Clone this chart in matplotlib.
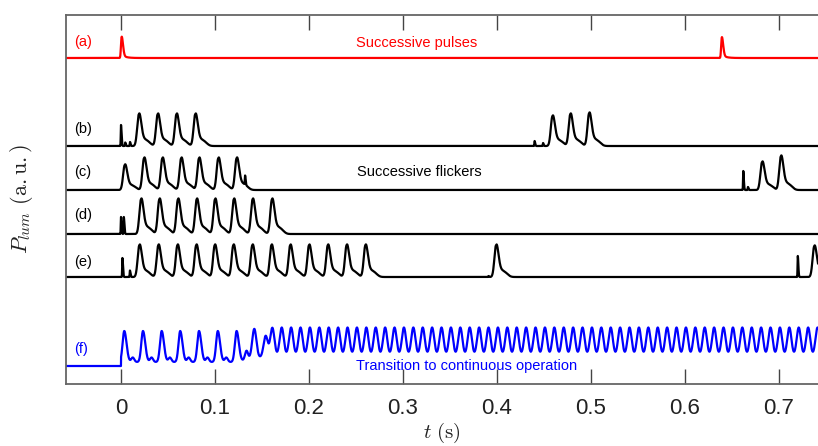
import numpy as np
import matplotlib
matplotlib.use("Agg")
import matplotlib.pyplot as plt

plt.rcParams["font.family"] = ["Liberation Sans", "DejaVu Sans"]
plt.rcParams["mathtext.fontset"] = "cm"

# ---- data (time in s, heights in a.u.) ----
# baselines (vertical offset of each trace)
BASE = {"a": 32.6, "b": 23.8, "c": 19.4, "d": 15.0, "e": 10.7, "f": 1.8}

# (a) successive pulses
a_peaks = [0.0005, 0.639]
a_heights = [2.4, 2.35]

# (b) flicker bursts
b_spikes = [0.0, 0.0045, 0.0096, 0.440, 0.449]
b_spike_h = [2.1, 0.35, 0.4, 0.5, 0.3]
b_peaks = [0.019, 0.039, 0.059, 0.079, 0.459, 0.478, 0.498]
b_heights = [3.3, 3.3, 3.3, 3.3, 3.1, 3.3, 3.4]

# (c)
c_spikes = [0.132, 0.662, 0.667]
c_spike_h = [0.9, 1.9, 0.3]
c_peaks = [0.004, 0.0245, 0.044, 0.064, 0.083, 0.1035, 0.123, 0.682, 0.702]
c_heights = [2.6, 3.3, 3.3, 3.3, 3.3, 3.3, 3.3, 2.9, 3.5]

# (d)
d_spikes = [0.0, 0.003]
d_spike_h = [1.7, 1.7]
d_peaks = [0.0213, 0.0408, 0.0606, 0.0805, 0.100, 0.120, 0.140, 0.1606]
d_heights = [3.6, 3.6, 3.6, 3.6, 3.6, 3.6, 3.6, 3.6]

# (e)
e_spikes = [0.0015, 0.0095, 0.391, 0.720]
e_spike_h = [1.9, 0.65, 0.1, 2.1]
e_peaks = [0.0195, 0.0397, 0.060, 0.080, 0.0997, 0.1195, 0.1397, 0.160,
           0.180, 0.200, 0.220, 0.240, 0.260, 0.399, 0.7375]
e_heights = [3.3, 3.3, 3.3, 3.3, 3.3, 3.3, 3.3, 3.3,
             3.3, 3.3, 3.3, 3.3, 3.3, 3.3, 3.2]

# (f) transition to continuous operation
f_peaks = [0.0035, 0.0234, 0.0433, 0.063, 0.083, 0.103, 0.123, 0.1418, 0.1539,
           0.161, 0.171, 0.181, 0.191, 0.201, 0.211, 0.221, 0.231, 0.241,
           0.251, 0.261, 0.271, 0.281, 0.291, 0.301, 0.311, 0.321, 0.331,
           0.341, 0.351, 0.361, 0.371, 0.381, 0.391, 0.401, 0.411, 0.421,
           0.431, 0.441, 0.451, 0.461, 0.471, 0.481, 0.491, 0.501, 0.511,
           0.521, 0.531, 0.541, 0.551, 0.561, 0.571, 0.581, 0.591, 0.601,
           0.611, 0.621, 0.631, 0.641, 0.651, 0.661, 0.671, 0.681, 0.691,
           0.701, 0.711, 0.721, 0.731, 0.741]
f_heights = [3.1, 3.1, 3.1, 3.1, 3.1, 3.1, 3.1, 2.9, 2.1] + [2.85] * 59
f_bumps = [0.0125, 0.0325, 0.052, 0.072, 0.092, 0.112, 0.1335]
f_bump_h = [0.45, 0.45, 0.45, 0.45, 0.45, 0.45, 0.9]
f_ped_t = [-0.06, -0.0001, 0.0, 0.125, 0.14, 0.165, 0.75]
f_ped_v = [0.0, 0.0, 0.4, 0.4, 0.8, 1.0, 1.0]

t = np.linspace(-0.0585, 0.7415, 16000)


def peak(t0, h, rise, fall):
    dt = t - t0
    w = np.where(dt < 0, rise, fall)
    return h * np.exp(-0.5 * (dt / w) ** 2)


def flicker(t0, h):
    # main lobe plus a plateau-like tail that dies before the next flicker
    dt = t - t0
    pos = np.clip(dt, 0, None)
    tail = np.where(dt > 0, 0.22 * h * np.exp(-(dt / 0.0125) ** 4), 0.0)
    tail *= 1 - np.exp(-pos / 0.002)
    return peak(t0, 0.96 * h, 0.00175, 0.0024) + tail


def trace(peaks, heights, spikes=(), spike_h=()):
    y = np.zeros_like(t)
    for t0, h in zip(peaks, heights):
        y += flicker(t0, h)
    for t0, h in zip(spikes, spike_h):
        y += peak(t0, h, 0.00025, 0.0006)
    return y


fig = plt.figure(figsize=(8.18, 4.46), dpi=100)
ax = fig.add_axes([66 / 818, 1 - 384 / 446, 1 - 66 / 818, (384 - 14.7) / 446])

lw = 1.6
ya = np.zeros_like(t)
for t0, h in zip(a_peaks, a_heights):
    dt = t - t0
    pos = np.clip(dt, 0, None)
    ya += peak(t0, 0.85 * h, 0.0006, 0.0015)
    ya += np.where(dt > 0, 0.15 * h * np.exp(-pos / 0.004), 0.0) * (1 - np.exp(-pos / 0.0006))
ax.plot(t, BASE["a"] + ya, color="red", lw=lw)

ax.plot(t, BASE["b"] + trace(b_peaks, b_heights, b_spikes, b_spike_h), color="black", lw=lw)
ax.plot(t, BASE["c"] + trace(c_peaks, c_heights, c_spikes, c_spike_h), color="black", lw=lw)
ax.plot(t, BASE["d"] + trace(d_peaks, d_heights, d_spikes, d_spike_h), color="black", lw=lw)
ax.plot(t, BASE["e"] + trace(e_peaks, e_heights, e_spikes, e_spike_h), color="black", lw=lw)

yf = np.interp(t, f_ped_t, f_ped_v)
for t0, h in zip(f_peaks, f_heights):
    if t0 < 0.13:
        yf += peak(t0, h, 0.0018, 0.0024)
    else:
        yf += peak(t0, h, 0.0022, 0.0022)
for t0, h in zip(f_bumps, f_bump_h):
    yf += peak(t0, h, 0.0016, 0.0016)
yf = np.where(t < 0, 0.0, yf)
ax.plot(t, BASE["f"] + yf, color="blue", lw=lw)

# labels
lab_kw = dict(fontsize=10.5, ha="left", va="center")
ax.text(-0.0495, 34.2, "(a)", color="red", **lab_kw)
ax.text(-0.0495, 25.5, "(b)", color="black", **lab_kw)
ax.text(-0.0495, 21.2, "(c)", color="black", **lab_kw)
ax.text(-0.0495, 16.9, "(d)", color="black", **lab_kw)
ax.text(-0.0495, 12.2, "(e)", color="black", **lab_kw)
ax.text(-0.0495, 3.5, "(f)", color="blue", **lab_kw)
ax.text(0.314, 34.1, "Successive pulses", color="red", fontsize=10.5, ha="center", va="center")
ax.text(0.317, 21.2, "Successive flickers", color="black", fontsize=10.5, ha="center", va="center")
ax.text(0.368, 1.8, "Transition to continuous operation", color="blue", fontsize=10.5,
        ha="center", va="center")

ax.set_xlim(-0.0585, 0.7415)
ax.set_ylim(0, 36.93)
ax.set_xticks([0, 0.1, 0.2, 0.3, 0.4, 0.5, 0.6, 0.7])
ax.set_xticklabels(["0", "0.1", "0.2", "0.3", "0.4", "0.5", "0.6", "0.7"])
ax.set_yticks([])
ax.tick_params(axis="x", direction="in", length=11, width=1, color="#444444",
               top=True, labelsize=16, pad=10, labelcolor="#222222")
for s in ["left", "top", "bottom"]:
    ax.spines[s].set_color("#666666")
    ax.spines[s].set_linewidth(1.3)
ax.spines["right"].set_visible(False)

ax.set_xlabel(r"$t\ \mathrm{(s)}$", fontsize=15, labelpad=1.5, color="#222222")
ax.set_ylabel(r"$P_{lum}\ \mathrm{(a.u.)}$", fontsize=16, labelpad=22, color="#222222")

fig.savefig("out.png", dpi=100)
